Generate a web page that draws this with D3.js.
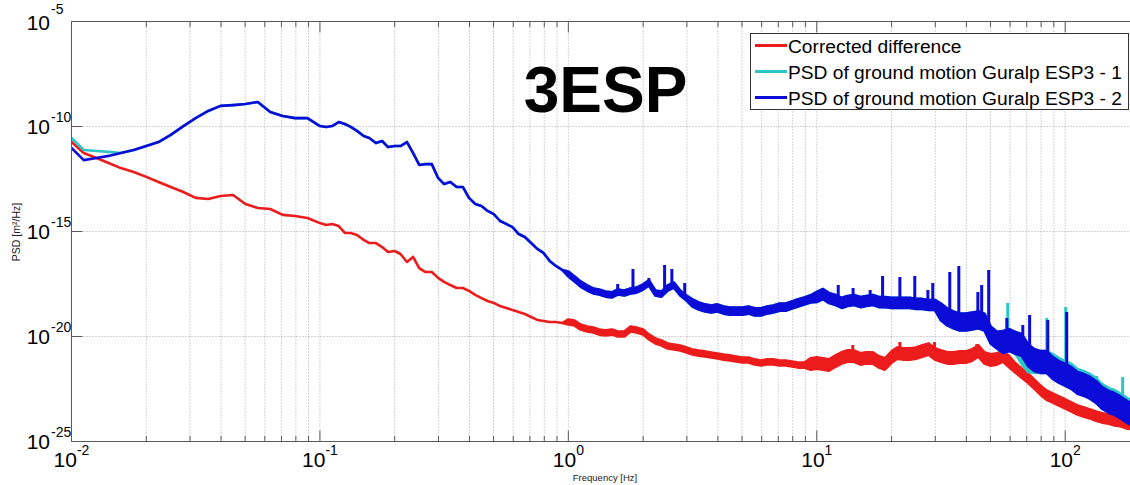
<!DOCTYPE html>
<html>
<head>
<meta charset="utf-8">
<script src="https://cdn.jsdelivr.net/npm/d3@7"></script>
<style>
  body { margin: 0; background: #fff; }
  svg { display: block; font-family: "Liberation Sans", Arial, sans-serif; }
</style>
</head>
<body>
<svg id="chart" width="1130" height="485"></svg>
<script>
// Frequency grid in Hz (20 points/decade below 0.1 Hz, 40 points/decade above)
const freq = [
  0.01, 0.0112, 0.0126, 0.0141, 0.0158, 0.0178, 0.02, 0.0224, 0.0251, 0.0282,
  0.0316, 0.0355, 0.0398, 0.0447, 0.0501, 0.0562, 0.0631, 0.0708, 0.0794, 0.0891, 0.1,
  0.106, 0.112, 0.119, 0.126, 0.133, 0.141, 0.150, 0.158, 0.168, 0.178,
  0.188, 0.200, 0.211, 0.224, 0.237, 0.251, 0.266, 0.282, 0.299, 0.316,
  0.335, 0.355, 0.376, 0.398, 0.422, 0.447, 0.473, 0.501, 0.531, 0.562,
  0.596, 0.631, 0.668, 0.708, 0.750, 0.794, 0.841, 0.891, 0.944, 1.00,
  1.06, 1.12, 1.19, 1.26, 1.33, 1.41, 1.50, 1.58, 1.68, 1.78,
  1.88, 2.00, 2.11, 2.24, 2.37, 2.51, 2.66, 2.82, 2.99, 3.16,
  3.35, 3.55, 3.76, 3.98, 4.22, 4.47, 4.73, 5.01, 5.31, 5.62,
  5.96, 6.31, 6.68, 7.08, 7.50, 7.94, 8.41, 8.91, 9.44, 10.0,
  10.6, 11.2, 11.9, 12.6, 13.3, 14.1, 15.0, 15.8, 16.8, 17.8,
  18.8, 20.0, 21.1, 22.4, 23.7, 25.1, 26.6, 28.2, 29.9, 31.6,
  33.5, 35.5, 37.6, 39.8, 42.2, 44.7, 47.3, 50.1, 53.1, 56.2,
  59.6, 63.1, 66.8, 70.8, 75.0, 79.4, 84.1, 89.1, 94.4, 100,
  106, 112, 119, 126, 133, 141, 150, 158, 168, 178, 188, 200
];

// log10 of PSD [m²/Hz] on the grid above
const redLogPSD = [
  -10.74, -11.26, -11.50, -11.74, -11.98, -12.17, -12.40, -12.64, -12.88, -13.12,
  -13.40, -13.45, -13.31, -13.26, -13.69, -13.88, -13.93, -14.21, -14.26, -14.36, -14.60,
  -14.69, -14.64, -14.74, -15.07, -15.07, -15.17, -15.40, -15.55, -15.55, -15.74,
  -15.98, -15.93, -16.07, -16.45, -16.21, -16.74, -16.93, -16.93, -17.21, -17.40,
  -17.55, -17.69, -17.69, -17.83, -18.02, -18.17, -18.31, -18.40, -18.55, -18.64,
  -18.74, -18.83, -18.93, -19.07, -19.21, -19.26, -19.31, -19.31, -19.36, -19.31,
  -19.36, -19.55, -19.64, -19.69, -19.79, -19.83, -19.79, -19.88, -19.88, -19.64,
  -19.69, -19.79, -20.02, -20.21, -20.31, -20.45, -20.50, -20.55, -20.64, -20.74,
  -20.79, -20.83, -20.88, -20.93, -20.98, -21.02, -21.07, -21.12, -21.12, -21.21,
  -21.26, -21.21, -21.21, -21.26, -21.26, -21.31, -21.36, -21.36, -21.31, -21.26,
  -21.31, -21.36, -21.17, -21.02, -20.93, -20.93, -21.07, -21.02, -21.02, -21.21,
  -21.31, -20.98, -20.79, -20.83, -20.83, -20.79, -20.69, -20.60, -20.83, -20.93,
  -21.02, -21.02, -20.98, -20.98, -20.88, -20.69, -21.02, -21.12, -21.07, -20.93,
  -21.21, -21.50, -21.74, -21.98, -22.26, -22.55, -22.79, -22.93, -23.07, -23.21,
  -23.36, -23.50, -23.60, -23.69, -23.79, -23.88, -23.93, -24.02, -24.07, -24.17, -24.21, -24.26
];

const cyanLogPSD = [
  -10.55, -11.12, -11.17, -11.21, -11.26, -11.12, -10.93, -10.74, -10.40, -9.98,
  -9.60, -9.26, -9.02, -8.98, -8.93, -8.83, -9.31, -9.50, -9.60, -9.60, -9.98,
  -10.02, -9.98, -9.79, -9.88, -10.02, -10.21, -10.45, -10.55, -10.79, -10.69,
  -10.98, -10.93, -10.93, -10.74, -11.26, -11.83, -11.79, -11.79, -12.45, -12.74,
  -12.64, -12.88, -12.88, -13.40, -13.69, -13.79, -14.02, -14.17, -14.50, -14.64,
  -14.79, -15.12, -15.26, -15.55, -15.83, -16.02, -16.40, -16.64, -16.83, -17.02,
  -17.26, -17.50, -17.69, -17.83, -17.88, -17.98, -18.02, -17.88, -17.93, -17.83,
  -17.79, -17.64, -17.45, -17.93, -17.98, -17.69, -17.55, -17.93, -18.17, -18.40,
  -18.55, -18.64, -18.69, -18.64, -18.74, -18.79, -18.79, -18.79, -18.74, -18.83,
  -18.83, -18.74, -18.69, -18.60, -18.60, -18.50, -18.40, -18.31, -18.21, -18.12,
  -17.98, -18.17, -18.26, -18.40, -18.31, -18.26, -18.36, -18.31, -18.26, -18.36,
  -18.36, -18.40, -18.40, -18.40, -18.40, -18.45, -18.45, -18.50, -18.50, -18.83,
  -19.07, -19.21, -19.31, -19.31, -19.26, -19.21, -19.31, -19.93, -20.17, -20.26,
  -20.17, -20.31, -20.79, -21.17, -21.21, -21.21, -21.21, -21.36, -21.55, -21.69,
  -21.83, -22.07, -22.17, -22.31, -22.50, -22.79, -22.98, -23.07, -23.26, -23.45, -23.60, -23.74
];

const blueLogPSD = [
  -11.02, -11.60, -11.50, -11.40, -11.26, -11.12, -10.93, -10.74, -10.40, -9.98,
  -9.60, -9.26, -9.02, -8.98, -8.93, -8.83, -9.31, -9.50, -9.60, -9.60, -9.98,
  -10.02, -9.98, -9.79, -9.88, -10.02, -10.21, -10.45, -10.55, -10.79, -10.69,
  -10.98, -10.93, -10.93, -10.74, -11.26, -11.83, -11.79, -11.79, -12.45, -12.74,
  -12.64, -12.88, -12.88, -13.40, -13.69, -13.79, -14.02, -14.17, -14.50, -14.64,
  -14.79, -15.12, -15.26, -15.55, -15.83, -16.02, -16.40, -16.64, -16.83, -17.02,
  -17.26, -17.50, -17.69, -17.83, -17.88, -17.98, -18.02, -17.88, -17.93, -17.83,
  -17.79, -17.64, -17.45, -17.93, -17.98, -17.69, -17.55, -17.93, -18.17, -18.40,
  -18.55, -18.64, -18.69, -18.64, -18.74, -18.79, -18.79, -18.79, -18.74, -18.83,
  -18.83, -18.74, -18.69, -18.60, -18.60, -18.50, -18.40, -18.31, -18.21, -18.12,
  -17.98, -18.17, -18.26, -18.40, -18.31, -18.26, -18.36, -18.31, -18.26, -18.36,
  -18.36, -18.40, -18.40, -18.40, -18.40, -18.45, -18.45, -18.50, -18.50, -18.83,
  -19.07, -19.21, -19.31, -19.31, -19.26, -19.21, -19.31, -19.93, -20.17, -20.26,
  -20.17, -20.31, -20.40, -20.88, -21.12, -21.21, -21.21, -21.50, -21.69, -21.83,
  -21.98, -22.21, -22.31, -22.45, -22.64, -22.93, -23.12, -23.21, -23.40, -23.60, -23.74, -23.88
];

// Half-width of the noise band (decades), valid from the given frequency upward
const redNoise  = [[0.01, 0], [0.95, 0.12], [9, 0.27], [60, 0.22]];
const cyanNoise = [[0.01, 0], [0.95, 0.12], [3, 0.17], [10, 0.24], [30, 0.40], [55, 0.52]];
const blueNoise = [[0.01, 0], [0.95, 0.12], [3, 0.17], [10, 0.24], [30, 0.40], [55, 0.52]];

// Narrow spectral lines: [frequency Hz, log10 peak PSD]
const redLines = [[13.96, -20.40], [21.6, -20.26], [29.8, -20.26], [44.1, -20.36], [56.0, -20.55]];
const cyanLines = [[58.7, -18.40], [84.3, -19.12], [100.5, -18.60], [133.9, -21.88], [170.3, -21.93]];
const blueLines = [
  [1.58, -17.50], [1.82, -16.79], [2.11, -17.21], [2.44, -16.60], [2.61, -16.79], [2.94, -17.45],
  [12.2, -17.55], [14.0, -17.69], [16.4, -17.79], [18.4, -17.12], [21.6, -17.17], [24.8, -17.12],
  [28.0, -17.79], [29.3, -17.45], [34.3, -16.93], [37.3, -16.64], [44.5, -17.88], [46.1, -17.55],
  [49.2, -16.83], [58.2, -19.12], [67.5, -19.45], [71.9, -18.98], [85.1, -19.21], [101.4, -18.83]
];

const seriesNames = ["Corrected difference", "PSD of ground motion Guralp ESP3 - 1", "PSD of ground motion Guralp ESP3 - 2"];
const seriesColors = ["#ec1c1c", "#2cc6c6", "#0c0cd8"];

const xTickExp = [-2, -1, 0, 1, 2];
const yTickExp = [-25, -20, -15, -10, -5];
const yGridExp = [-20, -15, -10];

// ---- layout ----
const svg = d3.select("#chart");
const box = { left: 71.5, top: 21.5, bottom: 441.5, right: 1140 };

const x = d3.scaleLog().domain([0.01, 200]).range([box.left, box.right]);
const y = d3.scaleLog().domain([1e-25, 1e-5]).range([box.bottom, box.top]);

svg.append("defs").append("clipPath").attr("id", "plotclip")
  .append("rect").attr("x", box.left).attr("y", box.top)
  .attr("width", box.right - box.left).attr("height", box.bottom - box.top);

// minor + major x tick positions (decade multiples)
const xTicksAll = [];
for (let d = -2; d <= 2; d++) {
  for (let m = 1; m <= 9; m++) {
    const v = m * Math.pow(10, d);
    if (v <= 200 * 1.0001) xTicksAll.push({ v, major: m === 1 });
  }
}

// grid
const grid = svg.append("g");
grid.selectAll("line.vx").data(xTicksAll.filter(t => t.v > 0.0100001)).enter().append("line")
  .attr("x1", d => x(d.v)).attr("x2", d => x(d.v))
  .attr("y1", box.top).attr("y2", box.bottom)
  .attr("stroke", "#a8a8a8").attr("stroke-width", 1).attr("stroke-dasharray", "1,2");
grid.selectAll("line.hy").data(yGridExp).enter().append("line")
  .attr("x1", box.left).attr("x2", box.right)
  .attr("y1", d => y(Math.pow(10, d))).attr("y2", d => y(Math.pow(10, d)))
  .attr("stroke", "#a8a8a8").attr("stroke-width", 1).attr("stroke-dasharray", "1,2");

// axis ticks (inward, on bottom/top and left)
const axisColor = "#5a5a5a";
const ticks = svg.append("g").attr("stroke", axisColor).attr("stroke-width", 1);
xTicksAll.forEach(t => {
  const len = t.major ? 11 : 5.5;
  const px = x(t.v);
  ticks.append("line").attr("x1", px).attr("x2", px).attr("y1", box.bottom).attr("y2", box.bottom - len);
  ticks.append("line").attr("x1", px).attr("x2", px).attr("y1", box.top).attr("y2", box.top + len);
});
yTickExp.forEach(e => {
  const py = y(Math.pow(10, e));
  ticks.append("line").attr("x1", box.left).attr("x2", box.left + 11).attr("y1", py).attr("y2", py);
});

// data
const plot = svg.append("g").attr("clip-path", "url(#plotclip)");

function noiseAt(steps, f) {
  let w = 0;
  steps.forEach(([f0, v]) => { if (f >= f0) w = v; });
  return w;
}

function drawSeries(vals, steps, lines, color) {
  const pts = freq.map((f, i) => ({ f, c: vals[i], w: noiseAt(steps, f) }));
  const band = d3.area()
    .x(d => x(d.f))
    .y0(d => y(Math.pow(10, d.c - d.w)))
    .y1(d => y(Math.pow(10, d.c + d.w)));
  plot.append("path").attr("d", band(pts))
    .attr("fill", color).attr("stroke", color)
    .attr("stroke-width", 2.6).attr("stroke-linejoin", "round");
  plot.selectAll(null).data(lines).enter().append("line")
    .attr("x1", d => x(d[0])).attr("x2", d => x(d[0]))
    .attr("y1", d => {
      const i = d3.minIndex(freq, f => Math.abs(Math.log(f / d[0])));
      return y(Math.pow(10, vals[i]));
    })
    .attr("y2", d => y(Math.pow(10, d[1])))
    .attr("stroke", color).attr("stroke-width", 3);
}

drawSeries(redLogPSD, redNoise, redLines, seriesColors[0]);
drawSeries(cyanLogPSD, cyanNoise, cyanLines, seriesColors[1]);
drawSeries(blueLogPSD, blueNoise, blueLines, seriesColors[2]);

// axes box (left, top, bottom)
const frame = svg.append("g").attr("stroke", axisColor).attr("stroke-width", 1).attr("fill", "none");
frame.append("line").attr("x1", box.left).attr("x2", box.left).attr("y1", box.top).attr("y2", box.bottom);
frame.append("line").attr("x1", box.left).attr("x2", box.right).attr("y1", box.top).attr("y2", box.top);
frame.append("line").attr("x1", box.left).attr("x2", box.right).attr("y1", box.bottom).attr("y2", box.bottom);

// tick labels (base "10" with superscript exponent)
const lab = svg.append("g").attr("fill", "#000");
yTickExp.forEach(e => {
  const py = y(Math.pow(10, e));
  const top = e === -5;   // the topmost label sits against the figure edge
  lab.append("text").attr("x", 50).attr("y", py + (top ? 8.5 : 7)).attr("text-anchor", "end")
    .attr("font-size", 21).text("10");
  lab.append("text").attr("x", 51).attr("y", py - (top ? 7.5 : 4.5)).attr("text-anchor", "start")
    .attr("font-size", 14).text(String(e));
});
xTickExp.forEach(e => {
  const t = lab.append("text").attr("x", x(Math.pow(10, e))).attr("y", 467).attr("text-anchor", "middle");
  t.append("tspan").attr("font-size", 21).text("10");
  t.append("tspan").attr("font-size", 14).attr("dy", -12).text(String(e));
});

// axis titles
svg.append("text").attr("x", 605).attr("y", 481).attr("text-anchor", "middle")
  .attr("font-size", 9.5).attr("fill", "#222").text("Frequency [Hz]");
svg.append("text").attr("transform", "translate(20,232) rotate(-90)").attr("text-anchor", "middle")
  .attr("font-size", 10.5).attr("fill", "#222").text("PSD [m²/Hz]");

// chart title
svg.append("text").attr("x", 605.5).attr("y", 112).attr("text-anchor", "middle")
  .attr("font-size", 64).attr("font-weight", "bold").attr("fill", "#000").text("3ESP");

// legend
const leg = svg.append("g");
leg.append("rect").attr("x", 750.5).attr("y", 33.5).attr("width", 378).attr("height", 76)
  .attr("fill", "#fff").attr("stroke", "#333").attr("stroke-width", 1);
seriesNames.forEach((name, i) => {
  const by = 53 + i * 26;
  leg.append("line").attr("x1", 755).attr("x2", 787).attr("y1", by - 7.5).attr("y2", by - 7.5)
    .attr("stroke", seriesColors[i]).attr("stroke-width", 3);
  leg.append("text").attr("x", 788).attr("y", by).attr("font-size", 19.2).attr("fill", "#000").text(name);
});
</script>
</body>
</html>
